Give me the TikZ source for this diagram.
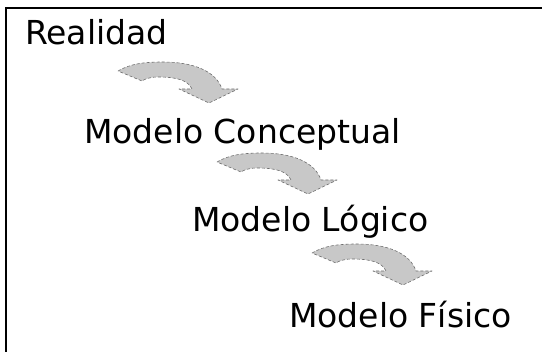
\documentclass[tikz,border=0pt]{standalone}
\usepackage{fontspec}
\setmainfont{DejaVu Sans}
\usepackage{xcolor}
\usepackage{tikz}
\usetikzlibrary{calc}
\definecolor{arrowgray}{RGB}{200,200,200}
\definecolor{edgegray}{RGB}{110,110,110}

\begin{document}
\begin{tikzpicture}[x = 1pt, y = -1pt,
  stage/.style = {anchor = base west, inner sep = 0pt, font = \fontsize{33}{39}\selectfont},
  arrowbody/.style = {fill = arrowgray, draw = edgegray, line width = .6pt, densely dashed, line join = round},
  pics/bentarrow/.style = {code = {
    \path[arrowbody] (0,0) .. controls (12,-7) and (25,-9) .. (45,-9)
      .. controls (75,-9) and (98,0) .. (104,18) -- (120,18) -- (91,32) -- (61,18) -- (74,18)
      .. controls (70,9) and (58,6) .. (40,6) .. controls (32,6) and (27,8) .. (24,10) -- cycle;
  }}]
  \useasboundingbox (0,0) rectangle (542,352);
  \draw[line width = 2pt] (5.7,352) -- (5.7,7.7) -- (542,7.7);
  \node[stage] (realidad) at (25,45) {Realidad};
  \node[stage] (conceptual) at (84,144) {Modelo Conceptual};
  \node[stage] (logico) at (192,232) {Modelo Lógico};
  \node[stage] (fisico) at (289,328) {Modelo Físico};
  \pic at (118,71) {bentarrow};
  \pic at (217,162) {bentarrow};
  \pic at (312,253) {bentarrow};
\end{tikzpicture}
\end{document}
